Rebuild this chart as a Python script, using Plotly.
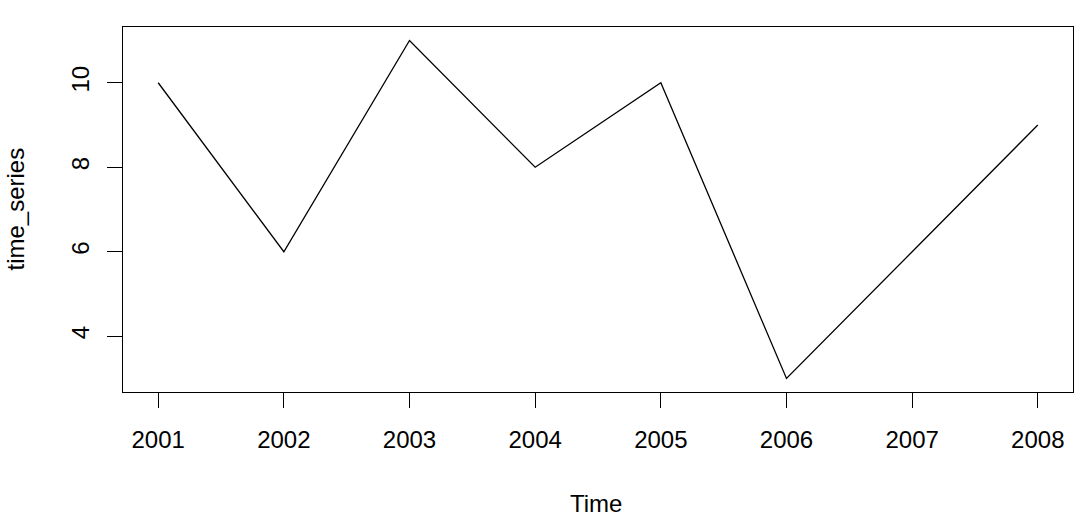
import plotly.graph_objects as go

years = [2001, 2002, 2003, 2004, 2005, 2006, 2007, 2008]
time_series = [10, 6, 11, 8, 10, 3, 6, 9]
x_ticks = [2001, 2002, 2003, 2004, 2005, 2006, 2007, 2008]
y_ticks = [4, 6, 8, 10]

FONT = "Liberation Sans, Arial, Helvetica, sans-serif"

fig = go.Figure()
fig.add_trace(go.Scatter(x=years, y=time_series, mode="lines",
                         line=dict(color="black", width=1.3), showlegend=False,
                         hoverinfo="x+y"))

xr = [min(years) - 0.04 * (max(years) - min(years)), max(years) + 0.04 * (max(years) - min(years))]
yr = [min(time_series) - 0.04 * (max(time_series) - min(time_series)),
      max(time_series) + 0.04 * (max(time_series) - min(time_series))]

fig.update_layout(
    width=1081, height=521,
    margin=dict(l=123, r=8, t=27, b=129),
    paper_bgcolor="white", plot_bgcolor="white",
    font=dict(family=FONT, size=24, color="black"),
    xaxis=dict(range=xr, tickvals=x_ticks, ticktext=[str(v) for v in x_ticks],
               showgrid=False, zeroline=False, showline=True, mirror=True,
               linecolor="black", linewidth=1.3, ticks="outside", ticklen=15,
               tickwidth=1.3, tickcolor="black", ticklabelstandoff=11,
               tickfont=dict(size=24)),
    yaxis=dict(range=yr, tickvals=y_ticks, ticktext=[str(v) for v in y_ticks],
               showgrid=False, zeroline=False, showline=True, mirror=True,
               linecolor="black", linewidth=1.3, ticks="outside", ticklen=15,
               tickwidth=1.3, tickcolor="black", tickangle=-90,
               ticklabelstandoff=8, tickfont=dict(size=24)),
)
W, H = 1081 - 123 - 8, 521 - 27 - 129
fig.add_annotation(text="Time", x=(596 - 123) / W, y=-(503 - 392) / H,
                   xref="paper", yref="paper", showarrow=False,
                   font=dict(size=24), xanchor="center", yanchor="middle")
fig.add_annotation(text="time_series", x=-(123 - 15) / W, y=0.5,
                   xref="paper", yref="paper", showarrow=False, textangle=-90,
                   font=dict(size=24), xanchor="center", yanchor="middle")

fig.write_html("out.html", config={"displayModeBar": False},
               post_script="document.body.style.margin='0px';document.body.style.overflow='hidden';")
